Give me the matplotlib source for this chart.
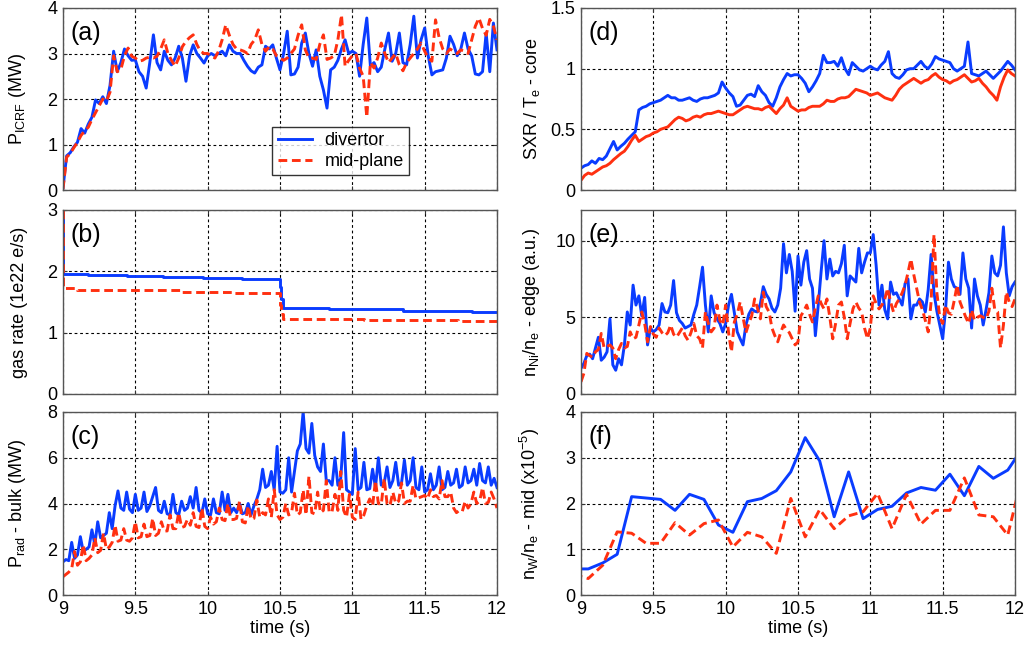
import numpy as np
import matplotlib
matplotlib.use('Agg')
import matplotlib.pyplot as plt
from matplotlib.ticker import FormatStrFormatter

plt.rcParams['font.family'] = ['Liberation Sans', 'DejaVu Sans']
plt.rcParams['mathtext.fontset'] = 'custom'
plt.rcParams['mathtext.rm'] = 'Liberation Sans'
plt.rcParams['mathtext.it'] = 'Liberation Sans'

BLUE = '#0a3cff'
RED = '#ff3010'

# sample grids (s)
t_a = np.linspace(9.0, 12.0, 121)   # 0.025 s, panels (a) and (d)
t_c = np.linspace(9.0, 12.0, 151)   # 0.02 s, panels (c) and (e)

# (a) ICRF power (MW)
picrf_div = [
    0.05, 0.75, 0.82, 0.95, 1.05, 1.35, 1.25, 1.45,
    1.6, 1.98, 1.9, 2.05, 1.9, 2.3, 3.05, 2.6,
    2.8, 3.1, 2.95, 2.85, 2.86, 2.6, 2.5, 2.24,
    2.8, 3.41, 2.8, 2.64, 3.05, 2.85, 2.75, 2.9,
    3.16, 2.9, 2.39, 2.95, 3.19, 3.0, 2.9, 2.79,
    2.95, 3.0, 2.95, 3.0, 3.05, 2.95, 3.19, 3.05,
    3.0, 3.0, 2.85, 2.72, 2.62, 2.57, 2.7, 2.75,
    3.16, 3.1, 3.19, 2.9, 2.64, 3.0, 3.49, 2.53,
    2.55, 2.7, 3.23, 3.45, 3.0, 2.72, 3.08, 2.5,
    2.2, 1.8, 2.64, 2.7, 2.85, 3.1, 3.3, 3.0,
    3.05, 3.0, 2.5, 3.2, 3.78, 2.72, 2.8, 2.6,
    2.7, 3.1, 3.45, 2.83, 3.0, 3.45, 2.8, 2.75,
    3.2, 3.82, 2.9, 3.3, 3.56, 2.94, 2.53, 2.6,
    2.62, 2.64, 2.9, 3.38, 3.2, 2.95, 3.1, 3.45,
    3.1, 2.95, 2.55, 2.53, 2.6, 3.45, 2.6, 3.67,
    3.08]
picrf_mid = [
    0.02, 0.72, 0.8, 0.93, 1.05, 1.2, 1.3, 1.38,
    1.55, 1.7, 1.85, 2.0, 1.95, 2.15, 2.95, 2.6,
    2.65, 2.95, 3.12, 2.94, 2.9, 2.83, 2.85, 2.9,
    2.92, 2.9, 2.94, 3.1, 3.3, 3.0, 2.85, 2.72,
    2.9, 3.15, 3.27, 3.35, 3.41, 3.2, 3.05, 3.0,
    3.0, 2.95, 2.9, 3.05, 3.3, 3.63, 3.4, 3.2,
    3.1, 3.08, 3.05, 3.0, 3.2, 3.3, 3.52, 3.2,
    3.05, 3.15, 3.1, 2.95, 2.9, 2.85, 2.9, 3.0,
    3.1, 3.4, 3.63, 3.08, 2.9, 2.9, 2.87, 3.2,
    3.41, 2.87, 2.9, 2.95, 3.3, 3.85, 2.72, 2.85,
    2.95, 3.0, 2.68, 2.5, 1.6, 2.8, 2.68, 2.9,
    3.23, 3.0, 2.8, 2.9, 3.0, 2.75, 2.62, 2.8,
    2.9, 3.0, 3.1, 3.23, 3.05, 2.9, 2.83, 3.74,
    3.35, 3.1, 3.0, 3.1, 3.05, 3.0, 3.08, 3.05,
    3.0, 3.3, 3.6, 3.78, 3.55, 3.4, 3.75, 3.6,
    3.3]

# (b) gas rate (1e22 e/s), step changes
gas_t_div = [9.0, 9.003, 9.17, 9.44, 9.69, 9.97, 10.24, 10.5, 10.51, 10.52, 10.84, 11.35, 11.83, 12.0]
gas_div = [3.0, 1.96, 1.94, 1.92, 1.90, 1.89, 1.87, 1.75, 1.55, 1.40, 1.38, 1.36, 1.345, 1.345]
gas_t_mid = [9.0, 9.003, 9.1, 9.81, 10.175, 10.5, 10.51, 10.52, 11.08, 11.73, 12.0]
gas_mid = [3.0, 1.73, 1.70, 1.67, 1.65, 1.45, 1.30, 1.22, 1.21, 1.19, 1.19]

# (c) bulk radiated power (MW)
prad_div = [
    1.45, 1.55, 1.5, 2.3, 1.6, 1.75, 2.55, 1.9, 2.0, 2.1,
    2.85, 2.2, 3.2, 2.5, 2.6, 2.7, 3.6, 2.9, 3.9, 4.55,
    3.8, 3.7, 4.5, 3.75, 3.6, 4.4, 3.7, 3.8, 4.5, 3.65,
    3.9, 4.3, 4.7, 3.7, 3.6, 4.1, 3.55, 3.5, 4.4, 3.6,
    3.5, 4.1, 3.7, 3.8, 4.3, 3.8, 4.7, 3.7, 3.6, 4.2,
    3.55, 3.5, 4.2, 3.6, 3.55, 4.5, 3.7, 4.4, 3.6, 3.8,
    3.6, 4.0, 3.55, 3.6, 4.0, 3.5, 3.9, 4.2, 4.6, 5.5,
    4.7, 4.8, 5.4, 4.6, 6.5, 4.5, 4.45, 4.6, 6.0, 4.5,
    5.4, 6.3, 6.6, 8.0, 6.4, 6.2, 7.5, 6.1, 5.6, 5.4,
    6.6, 5.0, 5.0, 4.8, 6.0, 4.8, 5.1, 7.1, 4.6, 4.5,
    4.4, 6.4, 4.6, 4.7, 5.8, 4.6, 4.65, 5.5, 4.7, 6.0,
    4.8, 4.9, 5.6, 4.7, 5.0, 5.8, 4.8, 4.9, 5.9, 4.8,
    5.0, 6.0, 4.7, 4.6, 5.6, 4.5, 4.6, 5.3, 4.6, 4.8,
    5.6, 4.6, 4.7, 5.4, 4.8, 4.9, 5.5, 4.7, 4.8, 5.6,
    4.9, 5.0, 5.5, 4.8, 5.75, 5.0, 4.9, 5.6, 4.8, 5.1,
    4.7]
prad_mid = [
    0.8, 0.9, 1.0, 1.15, 1.9, 1.3, 1.45, 2.2, 1.5, 1.6,
    1.75, 2.5, 1.85, 1.95, 2.7, 2.0, 2.1, 2.3, 3.05, 2.35,
    2.4, 2.9, 2.4, 2.35, 2.5, 3.2, 2.5, 2.55, 3.1, 2.55,
    2.6, 3.35, 2.6, 2.7, 3.2, 2.8, 2.8, 3.5, 2.9, 2.9,
    3.6, 2.95, 3.0, 3.3, 3.05, 3.6, 3.0, 2.95, 3.8, 3.0,
    2.9, 3.4, 3.1, 3.2, 3.8, 3.3, 3.25, 4.0, 3.3, 3.3,
    3.35, 4.1, 3.2, 3.15, 3.9, 3.3, 3.35, 4.15, 3.4, 3.6,
    3.5, 4.2, 3.4, 4.6, 3.5, 3.3, 3.4, 4.0, 3.5, 3.6,
    4.45, 3.5, 3.6, 4.6, 3.5, 5.2, 3.6, 3.55, 4.5, 3.6,
    3.7, 5.0, 3.6, 3.65, 4.4, 3.7, 5.4, 3.7, 3.4, 4.4,
    3.4, 3.3, 4.5, 3.3, 3.5, 3.9, 4.2, 3.9, 5.0, 4.0,
    3.95, 5.1, 4.0, 3.9, 4.5, 4.0, 4.1, 4.9, 4.0, 4.1,
    4.1, 4.8, 4.2, 4.25, 4.3, 4.35, 4.2, 4.6, 4.3, 4.35,
    4.2, 5.0, 4.3, 4.3, 4.5, 3.8, 3.6, 3.7, 3.65, 4.1,
    3.8, 4.0, 4.5, 4.0, 4.1, 4.7, 4.0, 4.05, 4.5, 4.2,
    3.8]

# (d) SXR / Te - core
sxr_div = [
    0.18, 0.2, 0.21, 0.24, 0.22, 0.26, 0.25, 0.28,
    0.34, 0.4, 0.33, 0.36, 0.385, 0.42, 0.45, 0.48,
    0.66, 0.68, 0.69, 0.71, 0.72, 0.73, 0.74, 0.76,
    0.78, 0.76, 0.76, 0.74, 0.74, 0.75, 0.76, 0.74,
    0.73, 0.75, 0.76, 0.76, 0.77, 0.78, 0.8, 0.89,
    0.84, 0.8, 0.77, 0.69, 0.70, 0.74, 0.78, 0.79,
    0.77, 0.86, 0.81, 0.78, 0.72, 0.69, 0.76, 0.85,
    0.91, 0.96, 0.94, 0.95, 0.95, 0.92, 0.88, 0.81,
    0.85, 0.9, 0.96, 1.11, 1.05, 1.05, 1.06, 1.02,
    1.09, 1.0, 0.95, 1.05, 1.02, 0.99, 0.98, 1.0,
    1.02, 1.0, 0.99, 1.03, 1.06, 1.14, 0.96, 0.93,
    0.92, 0.95, 0.99, 1.0, 1.0, 1.03, 1.06, 1.02,
    1.0, 1.04, 1.1, 1.08, 1.07, 1.06, 1.05, 1.0,
    0.98, 1.0, 1.02, 1.22, 0.96, 0.95, 0.94, 0.96,
    0.98, 0.95, 0.92, 0.95, 0.98, 1.02, 1.06, 1.03,
    0.99]
sxr_mid = [
    0.08, 0.12, 0.14, 0.13, 0.15, 0.17, 0.19, 0.2,
    0.22, 0.25, 0.275, 0.3, 0.32, 0.36, 0.41, 0.45,
    0.40, 0.42, 0.44, 0.45, 0.47, 0.48, 0.5, 0.51,
    0.52, 0.55, 0.58, 0.6, 0.59, 0.57, 0.58, 0.6,
    0.61, 0.6, 0.62, 0.63, 0.63, 0.64, 0.65, 0.64,
    0.63, 0.62, 0.62, 0.64, 0.66, 0.68, 0.69, 0.68,
    0.67, 0.67, 0.66, 0.68, 0.69, 0.66, 0.63, 0.67,
    0.70, 0.76, 0.69, 0.67, 0.65, 0.66, 0.66, 0.68,
    0.69, 0.69, 0.69, 0.71, 0.74, 0.73, 0.73, 0.75,
    0.76, 0.76, 0.77, 0.8, 0.83, 0.82, 0.81, 0.8,
    0.78, 0.79, 0.8, 0.78, 0.76, 0.75, 0.74, 0.78,
    0.83, 0.86, 0.88, 0.9, 0.92, 0.9, 0.88, 0.9,
    0.91, 0.94, 0.96, 0.93, 0.91, 0.9, 0.88, 0.9,
    0.91, 0.93, 0.95, 0.92, 0.89, 0.9, 0.92, 0.88,
    0.85, 0.81, 0.78, 0.74, 0.85, 0.93, 0.99, 0.96,
    0.94]

# (e) nNi/ne - edge (a.u.)
nni_div = [
    1.67, 2.0, 2.5, 2.6, 2.3, 3.0, 3.7, 2.2, 2.4, 2.75,
    4.9, 1.9, 1.55, 2.3, 1.9, 3.2, 5.35, 4.5, 7.1, 5.8,
    6.4, 5.1, 6.3, 3.2, 4.3, 4.05, 4.2, 4.5, 5.9, 5.35,
    5.3, 5.8, 7.4, 5.3, 4.8, 4.6, 4.3, 4.4, 4.5, 5.2,
    5.8, 7.0, 8.27, 5.8, 4.05, 6.4, 5.3, 4.9, 4.6, 4.05,
    4.6, 5.8, 6.5, 5.3, 4.05, 3.6, 3.2, 4.5, 5.2, 5.55,
    5.4, 5.35, 5.9, 7.0, 6.5, 6.2, 5.6, 5.35, 5.8, 6.9,
    9.8, 7.9, 9.1, 8.0, 5.4, 9.0, 7.1, 8.6, 9.35, 7.5,
    6.9, 3.8, 5.8, 8.0, 10.0, 7.5, 8.8, 7.7, 8.0, 7.9,
    8.5, 9.7, 6.4, 7.7, 7.5, 7.3, 9.5, 7.9, 8.6, 9.2,
    9.2, 10.4, 8.4, 5.8, 7.1, 5.5, 4.9, 7.3, 6.5, 6.6,
    6.2, 5.8, 7.2, 7.5, 4.9, 5.8, 5.8, 6.2, 6.0, 5.35,
    6.8, 9.1, 6.6, 5.4, 4.5, 3.6, 5.5, 8.6, 7.5, 7.0,
    6.9, 6.5, 9.2, 7.5, 6.9, 4.3, 7.5, 6.4, 5.8, 4.5,
    5.5, 6.6, 9.0, 7.9, 7.7, 8.4, 10.9, 7.9, 6.4, 7.0,
    7.3]
nni_mid = [
    0.8, 1.35, 2.65, 2.5, 2.4, 2.75, 2.9, 3.95, 3.0, 3.1,
    3.2, 3.0, 2.3, 2.9, 3.3, 3.0, 3.1, 4.05, 3.6, 3.7,
    4.5, 5.35, 4.6, 3.4, 4.4, 3.9, 3.7, 4.3, 4.0, 3.8,
    4.0, 4.5, 3.9, 3.7, 4.0, 4.3, 3.8, 3.5, 4.0, 4.6,
    3.8, 3.6, 3.0, 5.35, 4.6, 4.05, 4.3, 5.8, 4.8, 4.5,
    5.8, 4.0, 2.75, 4.7, 5.2, 6.0, 5.0, 4.0, 4.6, 5.1,
    6.2, 5.6, 4.9, 6.65, 5.7, 5.35, 4.3, 3.8, 3.4, 4.0,
    4.5, 4.2, 4.0, 3.6, 3.2, 3.4, 5.1, 5.4, 5.8, 5.2,
    4.7, 5.6, 6.4, 5.9, 5.55, 6.2, 5.0, 3.6, 4.6, 5.8,
    6.0, 5.0, 3.6, 4.6, 5.55, 6.0, 5.6, 5.35, 4.3, 3.6,
    4.3, 6.4, 5.9, 5.55, 5.8, 6.2, 6.9, 6.0, 5.35, 5.9,
    6.2, 6.6, 7.1, 7.9, 8.8, 7.8, 6.9, 6.0, 5.5, 4.8,
    4.05, 6.0, 10.4, 6.6, 5.0, 4.6, 5.8, 5.3, 5.2, 6.1,
    7.1, 6.0, 5.5, 5.0, 4.6, 5.5, 4.8, 5.0, 5.1, 5.0,
    4.9, 5.4, 6.9, 5.5, 5.35, 3.0, 4.5, 6.65, 6.0, 5.7,
    6.2]

# (f) nW/ne - mid (x1e-5), 0.1 s samples
t_f = [8.95, 9.05, 9.15, 9.25, 9.35, 9.45, 9.55, 9.65, 9.75, 9.85, 9.95,
       10.05, 10.15, 10.25, 10.35, 10.45, 10.55, 10.65, 10.75, 10.85, 10.95,
       11.05, 11.15, 11.25, 11.35, 11.45, 11.55, 11.65, 11.75, 11.85, 11.95, 12.05]
nw_div = [0.57, 0.57, 0.7, 0.89, 2.15, 2.12, 2.09, 1.85, 2.2, 2.09, 1.53,
          1.37, 2.04, 2.11, 2.28, 2.69, 3.44, 2.93, 1.71, 2.69, 1.67,
          1.87, 1.94, 2.23, 2.35, 2.29, 2.64, 2.17, 2.81, 2.55, 2.73, 3.2]
nw_mid = [0.45, 0.36, 0.65, 1.38, 1.35, 1.13, 1.13, 1.58, 1.31, 1.56, 1.64,
          1.05, 1.37, 1.27, 0.91, 2.11, 1.27, 1.87, 1.45, 1.73, 1.82,
          2.22, 1.45, 2.2, 1.55, 1.85, 1.85, 2.56, 1.75, 1.71, 1.31, 2.6]

fig = plt.figure(figsize=(10.24, 6.5), dpi=100)
W = 434 / 1024
lefts = [63 / 1024, 581 / 1024]
rows = [(1 - 190 / 650, 182 / 650), (1 - 394 / 650, 184 / 650), (1 - 595 / 650, 183 / 650)]

axes = {}
names = [['a', 'b', 'c'], ['d', 'e', 'f']]
for ci in range(2):
    for ri in range(3):
        ax = fig.add_axes([lefts[ci], rows[ri][0], W, rows[ri][1]])
        axes[names[ci][ri]] = ax

dash = (0, (3, 1.6))
lw = 2.1

ax = axes['a']
ax.plot(t_a, picrf_div, color=BLUE, lw=lw, label='divertor')
ax.plot(t_a, picrf_mid, color=RED, lw=lw, ls=dash, label='mid-plane')
ax.set_ylim(0, 4)
ax.set_yticks([0, 1, 2, 3, 4])
ax.set_ylabel(r'P$_{\rm ICRF}$ (MW)')
leg = ax.legend(loc='lower left', bbox_to_anchor=(0.482, 0.08), fancybox=False,
                edgecolor='k', fontsize=13, handlelength=1.9, borderpad=0.3,
                labelspacing=0.2, handletextpad=0.7, borderaxespad=0)
leg.get_frame().set_linewidth(1.0)

ax = axes['b']
ax.plot(gas_t_div, gas_div, color=BLUE, lw=lw, drawstyle='steps-post')
ax.plot(gas_t_mid, gas_mid, color=RED, lw=lw, ls=dash, drawstyle='steps-post')
ax.set_ylim(0, 3)
ax.set_yticks([0, 1, 2, 3])
ax.set_ylabel('gas rate (1e22 e/s)')

ax = axes['c']
ax.plot(t_c, prad_div, color=BLUE, lw=lw)
ax.plot(t_c, prad_mid, color=RED, lw=lw, ls=dash)
ax.set_ylim(0, 8)
ax.set_yticks([0, 2, 4, 6, 8])
ax.set_ylabel(r'P$_{\rm rad}$ - bulk (MW)')

ax = axes['d']
ax.plot(t_a, sxr_div, color=BLUE, lw=lw)
ax.plot(t_a, sxr_mid, color=RED, lw=lw)
ax.set_ylim(0, 1.5)
ax.set_yticks([0, 0.5, 1, 1.5])
ax.set_ylabel(r'SXR / T$_{\rm e}$ - core')

ax = axes['e']
ax.plot(t_c, nni_div, color=BLUE, lw=lw)
ax.plot(t_c, nni_mid, color=RED, lw=lw, ls=dash)
ax.set_ylim(0, 12)
ax.set_yticks([0, 5, 10])
ax.set_ylabel(r'n$_{\rm Ni}$/n$_{\rm e}$ - edge (a.u.)')

ax = axes['f']
ax.plot(t_f, nw_div, color=BLUE, lw=lw)
ax.plot(t_f, nw_mid, color=RED, lw=lw, ls=dash)
ax.set_ylim(0, 4)
ax.set_yticks([0, 1, 2, 3, 4])
ax.set_ylabel(r'n$_{\rm W}$/n$_{\rm e}$ - mid (x10$^{-5}$)')

for key, ax in axes.items():
    ax.set_xlim(9, 12)
    ax.set_xticks([9, 9.5, 10, 10.5, 11, 11.5, 12])
    ax.xaxis.set_major_formatter(FormatStrFormatter('%g'))
    ax.yaxis.set_major_formatter(FormatStrFormatter('%g'))
    ax.grid(True, color='k', linestyle=(0, (2.5, 2.5)), linewidth=0.8)
    ax.set_axisbelow(True)
    ax.tick_params(direction='in', length=3, top=True, right=True,
                   labelsize=13, colors='#333333', labelcolor='k', pad=4)
    for s in ax.spines.values():
        s.set_color('#555555')
        s.set_linewidth(1.0)
    ax.yaxis.label.set_size(13)
    if key in ('c', 'f'):
        ax.set_xlabel('time (s)', fontsize=13, labelpad=2)
    else:
        ax.tick_params(labelbottom=False)
    if key in ('a', 'b', 'c'):
        ax.yaxis.set_label_coords(-0.08, 0.5)
    else:
        ax.yaxis.set_label_coords(-0.09, 0.5)
    ax.text(0.017, 0.93, '(' + key + ')', transform=ax.transAxes,
            ha='left', va='top', fontsize=18)

fig.savefig('out.png', dpi=100, facecolor='white')
